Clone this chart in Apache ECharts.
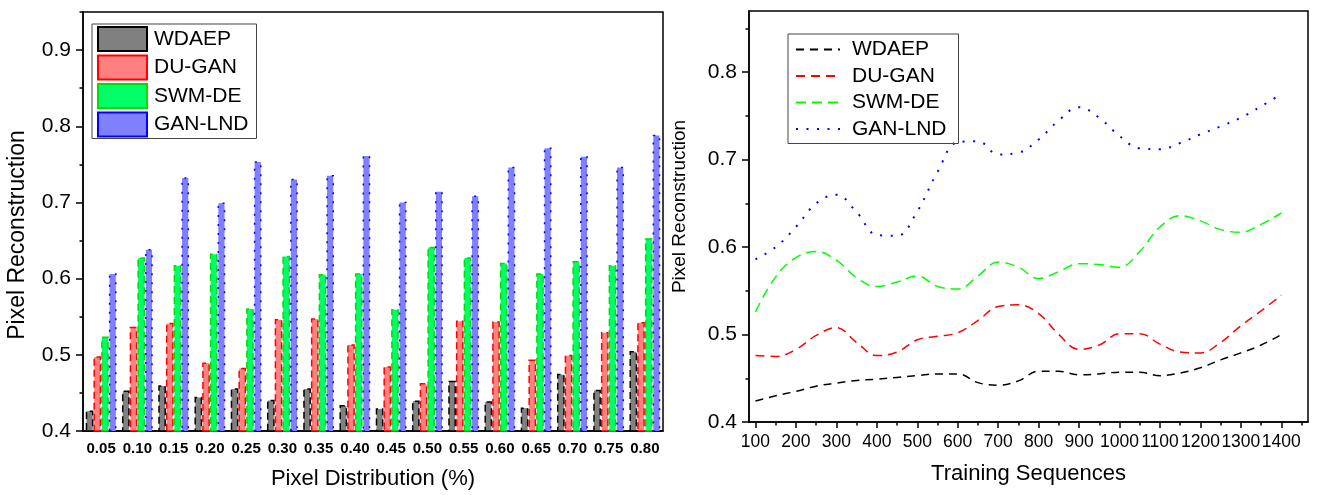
<!DOCTYPE html>
<html>
<head>
<meta charset="utf-8">
<script src="https://cdn.jsdelivr.net/npm/echarts@6/dist/echarts.min.js"></script>
<style>
  html, body { margin: 0; padding: 0; background: #fff; }
  #chart { width: 1318px; height: 495px; }
</style>
</head>
<body>
<div id="chart"></div>
<script>
// Bar chart: pixel reconstruction per pixel distribution
const categories = ['0.05','0.10','0.15','0.20','0.25','0.30','0.35','0.40',
                    '0.45','0.50','0.55','0.60','0.65','0.70','0.75','0.80'];
const wdaepBars  = [0.427,0.453,0.460,0.445,0.456,0.441,0.456,0.434,0.430,0.440,0.466,0.439,0.431,0.475,0.454,0.505];
const duganBars  = [0.498,0.537,0.542,0.490,0.483,0.547,0.548,0.514,0.485,0.463,0.545,0.544,0.494,0.500,0.530,0.543];
const swmdeBars  = [0.524,0.628,0.618,0.633,0.561,0.630,0.606,0.607,0.560,0.642,0.628,0.621,0.607,0.623,0.618,0.653];
const ganlndBars = [0.607,0.639,0.733,0.700,0.754,0.731,0.736,0.762,0.701,0.715,0.709,0.747,0.772,0.761,0.747,0.789];

// Line chart: pixel reconstruction per number of training sequences
const trainingSeq = [100,150,200,250,300,350,400,450,500,550,600,650,700,750,
                     800,850,900,950,1000,1050,1100,1150,1200,1250,1300,1350,1400];
const wdaepLine  = [0.424,0.430,0.435,0.441,0.4445,0.4475,0.449,0.451,0.453,0.455,0.455,0.445,0.442,0.447,
                    0.458,0.458,0.454,0.455,0.457,0.457,0.453,0.456,0.462,0.471,0.479,0.488,0.500];
const duganLine  = [0.476,0.475,0.483,0.499,0.508,0.491,0.476,0.480,0.494,0.498,0.502,0.516,0.532,0.534,
                    0.524,0.500,0.483,0.488,0.501,0.501,0.489,0.480,0.479,0.491,0.510,0.527,0.545];
const swmdeLine  = [0.526,0.566,0.588,0.595,0.585,0.565,0.555,0.560,0.567,0.555,0.552,0.567,0.583,0.577,
                    0.564,0.572,0.581,0.580,0.577,0.595,0.623,0.636,0.630,0.620,0.617,0.626,0.639];
const ganlndLine = [0.586,0.600,0.623,0.650,0.660,0.640,0.614,0.613,0.641,0.686,0.720,0.721,0.706,0.708,
                    0.723,0.745,0.760,0.748,0.727,0.713,0.712,0.719,0.729,0.738,0.748,0.761,0.775];

// Axis tick positions
const barYLabels   = [0.4,0.5,0.6,0.7,0.8,0.9];
const barYMinor    = [0.45,0.55,0.65,0.75,0.85,0.95];
const lineYLabels  = [0.4,0.5,0.6,0.7,0.8];
const lineYMinor   = [0.45,0.55,0.65,0.75,0.85];
const lineXLabels  = [100,200,300,400,500,600,700,800,900,1000,1100,1200,1300,1400];
const lineXMinor   = [150,250,350,450,550,650,750,850,950,1050,1150,1250,1350,1450];

const methods = ['WDAEP','DU-GAN','SWM-DE','GAN-LND'];

const FONT = 'Liberation Sans, Arial, Helvetica, sans-serif';
const BLACK = '#000';

const chart = echarts.init(document.getElementById('chart'), null, { renderer: 'canvas' });

function pair(xs, ys) { return xs.map((x, i) => [x, ys[i]]); }

const barStyles = [
  { color: '#808080', borderColor: '#000000', borderType: [7, 4] },
  { color: '#ff8080', borderColor: '#ff0000', borderType: [7, 4] },
  { color: '#00ff66', borderColor: '#00dd00', borderType: [7, 4] },
  { color: '#8080ff', borderColor: '#0000ff', borderType: [2, 7] }
];
const barData = [wdaepBars, duganBars, swmdeBars, ganlndBars];

const lineStyles = [
  { color: '#000000', type: [8, 6], width: 1.5 },
  { color: '#ff0000', type: [9, 6], width: 1.5 },
  { color: '#00ff00', type: [10, 6], width: 1.5 },
  { color: '#0000ff', type: [2, 8.5], width: 2 }
];
const lineData = [wdaepLine, duganLine, swmdeLine, ganlndLine];
const lineSeriesName = m => m + ' (sequences)';

const series = [];
methods.forEach((m, i) => {
  series.push({
    type: 'bar', name: m, xAxisIndex: 0, yAxisIndex: 0,
    data: barData[i], barWidth: 7.7, barGap: '0%',
    itemStyle: Object.assign({ borderWidth: 1.5 }, barStyles[i]),
    emphasis: { disabled: true }
  });
});
methods.forEach((m, i) => {
  series.push({
    type: 'line', name: lineSeriesName(m), xAxisIndex: 1, yAxisIndex: 1,
    data: pair(trainingSeq, lineData[i]), smooth: 0.4, symbol: 'none',
    itemStyle: { color: lineStyles[i].color },
    lineStyle: lineStyles[i],
    emphasis: { disabled: true }
  });
});

const tickLabel = { color: BLACK, fontFamily: FONT };

chart.setOption({
  animation: false,
  grid: [
    { left: 83, top: 12, width: 580, bottom: 62, show: true, borderColor: '#000', borderWidth: 1.5, backgroundColor: 'transparent' },
    { left: 749, top: 11, width: 559, bottom: 73, show: true, borderColor: '#000', borderWidth: 1.5, backgroundColor: 'transparent' }
  ],
  legend: [
    {
      data: methods.map(m => ({ name: m, icon: 'rect' })),
      orient: 'vertical', left: 92, top: 24,
      itemWidth: 49, itemHeight: 24, itemGap: 2.5,
      padding: [2, 8, 1, 5],
      borderColor: '#444', borderWidth: 1,
      textStyle: { fontFamily: FONT, fontSize: 21, color: BLACK, padding: [0, 0, 0, 2] },
      selectedMode: false
    },
    {
      data: methods.map(m => lineSeriesName(m)),
      formatter: name => name.replace(' (sequences)', ''),
      orient: 'vertical', left: 788, top: 34,
      itemWidth: 44, itemHeight: 14, itemGap: 5.5,
      padding: [5, 12, 4, 7],
      borderColor: '#444', borderWidth: 1,
      itemStyle: { opacity: 0 },
      textStyle: { fontFamily: FONT, fontSize: 21, color: BLACK, padding: [0, 0, 0, 7] },
      selectedMode: false
    }
  ],
  xAxis: [
    {
      type: 'category', gridIndex: 0, data: categories, boundaryGap: true, position: 'bottom',
      axisLine: { lineStyle: { color: BLACK, width: 1.5 } },
      axisTick: { length: 5, interval: 0, lineStyle: { color: BLACK, width: 1.5 } },
      axisLabel: Object.assign({ fontSize: 15, fontWeight: 'bold', margin: 10, interval: 0, hideOverlap: false }, tickLabel),
      splitLine: { show: false },
      name: 'Pixel Distribution (%)', nameLocation: 'middle', nameGap: 37,
      nameTextStyle: { fontFamily: FONT, fontSize: 22, color: BLACK }
    },
    {
      type: 'value', gridIndex: 1, min: 84, max: 1466, position: 'bottom',
      axisLine: { onZero: false, lineStyle: { color: BLACK, width: 1.5 } },
      axisTick: { length: 6, customValues: lineXLabels, lineStyle: { color: BLACK, width: 1.5 } },
      axisLabel: Object.assign({ fontSize: 17.5, margin: 11, customValues: lineXLabels, hideOverlap: false,
                                 showMinLabel: true, showMaxLabel: true, formatter: v => String(v) }, tickLabel),
      splitLine: { show: false },
      name: 'Training Sequences', nameLocation: 'middle', nameGap: 41,
      nameTextStyle: { fontFamily: FONT, fontSize: 22, color: BLACK }
    },
    {
      type: 'value', gridIndex: 1, min: 84, max: 1466, position: 'bottom',
      axisLine: { show: false, onZero: false },
      axisTick: { length: 3.5, customValues: lineXMinor, lineStyle: { color: BLACK, width: 1.5 } },
      axisLabel: { show: false }, splitLine: { show: false }
    }
  ],
  yAxis: [
    {
      type: 'value', gridIndex: 0, min: 0.4, max: 0.95, position: 'left',
      axisLine: { show: true, onZero: false, lineStyle: { color: BLACK, width: 1.5 } },
      axisTick: { show: true, length: 7, customValues: barYLabels, lineStyle: { color: BLACK, width: 1.5 } },
      axisLabel: Object.assign({ fontSize: 21, margin: 12, customValues: barYLabels, formatter: v => v.toFixed(1) }, tickLabel),
      splitLine: { show: false },
      name: 'Pixel Reconstruction', nameLocation: 'middle', nameGap: 54,
      nameTextStyle: { fontFamily: FONT, fontSize: 23, color: BLACK, padding: [0, 27, 0, 0] }
    },
    {
      type: 'value', gridIndex: 1, min: 0.4, max: 0.87, position: 'left',
      axisLine: { show: true, onZero: false, lineStyle: { color: BLACK, width: 1.5 } },
      axisTick: { show: true, length: 7, customValues: lineYLabels, lineStyle: { color: BLACK, width: 1.5 } },
      axisLabel: Object.assign({ fontSize: 21, margin: 12, customValues: lineYLabels, formatter: v => v.toFixed(1) }, tickLabel),
      splitLine: { show: false },
      name: 'Pixel Reconstruction', nameLocation: 'middle', nameGap: 60,
      nameTextStyle: { fontFamily: FONT, fontSize: 19, color: BLACK, padding: [0, 0, 0, 20] }
    },
    {
      type: 'value', gridIndex: 0, min: 0.4, max: 0.95, position: 'left',
      axisLine: { show: false, onZero: false },
      axisTick: { show: true, length: 3.5, customValues: barYMinor, lineStyle: { color: BLACK, width: 1.5 } },
      axisLabel: { show: false }, splitLine: { show: false }
    },
    {
      type: 'value', gridIndex: 1, min: 0.4, max: 0.87, position: 'left',
      axisLine: { show: false, onZero: false },
      axisTick: { show: true, length: 3.5, customValues: lineYMinor, lineStyle: { color: BLACK, width: 1.5 } },
      axisLabel: { show: false }, splitLine: { show: false }
    }
  ],
  series: series
});
</script>
</body>
</html>
